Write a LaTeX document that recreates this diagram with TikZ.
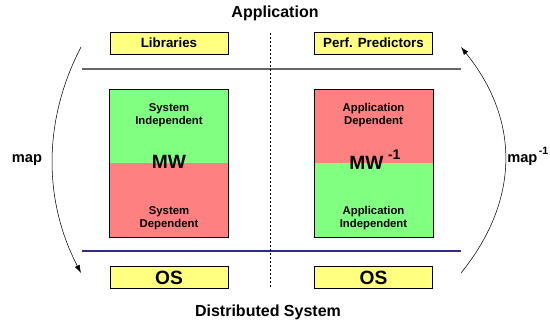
\documentclass[tikz,border=0pt]{standalone}
\usepackage{fontspec}
\setmainfont{Liberation Sans}
\usetikzlibrary{arrows.meta, positioning}

\definecolor{boxyellow}{HTML}{FFFF80}
\definecolor{mwgreen}{HTML}{80FF80}
\definecolor{mwred}{HTML}{FF8080}
\definecolor{appline}{HTML}{666666}
\definecolor{sysline}{HTML}{2E2E80}

\begin{document}
\begin{tikzpicture}[x=0.75pt, y=-0.75pt,
        layer/.style={draw, fill=boxyellow, minimum width=88.5pt, minimum height=16.5pt, inner sep=0pt, font=\bfseries},
        oslayer/.style={layer, font=\Large\bfseries},
        half/.style={minimum width=88.5pt, minimum height=55pt, inner sep=0pt},
        sublabel/.style={inner sep=0pt, align=center, font=\fontsize{8.5}{10}\selectfont\bfseries},
        mwlabel/.style={inner sep=0pt, font=\Large\bfseries},
        title/.style={font=\large\bfseries},
        maplabel/.style={inner sep=0pt, font=\fontsize{11}{13}\selectfont\bfseries},
        arrow/.style={-{Latex[length=6pt, width=4pt]}, thin}
    ]
        \useasboundingbox (0,0) rectangle (550,324);

        % --- Titles ---
        \node[title] (app) at (275, 13) {Application};
        \node[title] (dist) at (268, 312) {Distributed System};

        % --- Top row: application side ---
        \node[layer] (lib) at (169, 43) {Libraries};
        \node[layer] (perf) at (373.5, 43) {Perf. Predictors};

        % --- Middleware boxes ---
        \node[half, fill=mwgreen] (sysind) at (169, 126.67) {};
        \node[half, fill=mwred] (sysdep) at (169, 200) {};
        \draw (sysind.north west) rectangle (sysdep.south east);
        \node[sublabel, below=10pt of sysind.north] (sysindl) {System\\Independent};
        \node[sublabel, above=5pt of sysdep.south] (sysdepl) {System\\Dependent};
        \node[mwlabel, anchor=base] (mw) at (169, 169) {MW};

        \node[half, fill=mwred] (appdep) at (373.5, 126.67) {};
        \node[half, fill=mwgreen] (appind) at (373.5, 200) {};
        \draw (appdep.north west) rectangle (appind.south east);
        \node[sublabel, below=10pt of appdep.north] (appdepl) {Application\\Dependent};
        \node[sublabel, above=5pt of appind.south] (appindl) {Application\\Independent};
        \node[mwlabel, anchor=base west] (mwinv) at (349, 170) {MW\hspace{3.5pt}\raisebox{8pt}{\fontsize{10.5}{12}\selectfont -1}};

        % --- Bottom row: system side ---
        \node[oslayer] (osl) at (169, 277.5) {OS};
        \node[oslayer] (osr) at (373.5, 277.5) {OS};

        % --- Layer separators ---
        \coordinate (appw) at (82, 69);
        \coordinate (appe) at (461, 69);
        \coordinate (sysw) at (82, 251);
        \coordinate (syse) at (461, 251);
        \draw[appline, line width=0.8pt] (appw) -- (appe);
        \draw[sysline, line width=0.8pt] (sysw) -- (syse);

        \coordinate (divtop) at (270, 33);
        \coordinate (divbot) at (270, 288);
        \draw[dash pattern=on 1.5pt off 1.5pt] (divtop) -- (divbot);

        % --- Mapping arrows ---
        \coordinate (lmapa) at (81, 47);
        \coordinate (lmapb) at (81, 273);
        \coordinate (rmapa) at (461, 273);
        \coordinate (rmapb) at (461, 47);
        \draw[arrow] (lmapa) .. controls (43, 120) and (43, 200) .. (lmapb);
        \draw[arrow] (rmapa) .. controls (520, 200) and (520, 120) .. (rmapb);
        \node[maplabel, anchor=base] (map) at (27, 163) {map};
        \node[maplabel, anchor=base west] (mapinv) at (507, 163) {map\hspace{1pt}\raisebox{6pt}{\fontsize{8}{9}\selectfont -1}};

    \end{tikzpicture}
\end{document}
